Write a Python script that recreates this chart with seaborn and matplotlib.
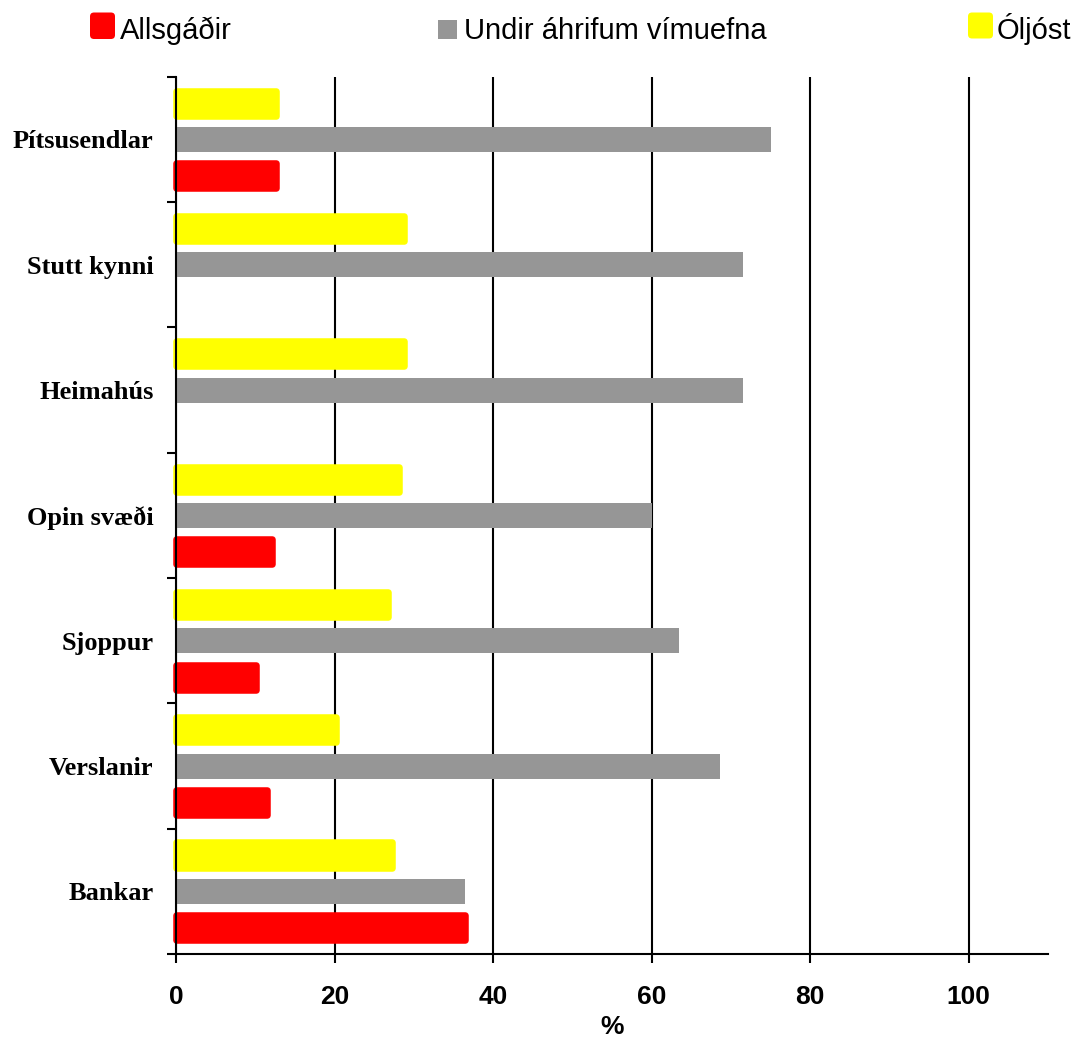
import matplotlib
matplotlib.use("Agg")
import matplotlib.pyplot as plt
import pandas as pd
import seaborn as sns
from matplotlib.patches import FancyBboxPatch

categories = ["Pítsusendlar", "Stutt kynni", "Heimahús", "Opin svæði", "Sjoppur", "Verslanir", "Bankar"]
series = ["Óljóst", "Undir áhrifum vímuefna", "Allsgáðir"]
oljost = [12.6, 28.7, 28.7, 28.1, 26.7, 20.2, 27.3]
undir_ahrifum = [75.0, 71.5, 71.5, 60.0, 63.4, 68.6, 36.4]
allsgadir = [12.6, 0, 0, 12.1, 10.1, 11.5, 36.4]
colors = {"Óljóst": "#FFFF00", "Undir áhrifum vímuefna": "#969696", "Allsgáðir": "#FF0000"}
legend_order = ["Allsgáðir", "Undir áhrifum vímuefna", "Óljóst"]
xticks = [0, 20, 40, 60, 80, 100]

df = pd.DataFrame({
    "flokkur": categories * 3,
    "hopur": [s for s in series for _ in categories],
    "gildi": oljost + undir_ahrifum + allsgadir,
})

sns.set_style("white")
plt.rcParams["text.color"] = "black"
plt.rcParams["axes.labelcolor"] = "black"
plt.rcParams["xtick.color"] = "black"
plt.rcParams["ytick.color"] = "black"

fig = plt.figure(figsize=(10.75, 10.43), dpi=100)
ax = fig.add_axes([0.1637, 0.0853, 0.8112, 0.8411])
ax.set_axisbelow(True)

sns.barplot(data=df, y="flokkur", x="gildi", hue="hopur", order=categories,
            hue_order=series, palette=colors, saturation=1, width=0.87,
            orient="h", legend=False, ax=ax)

# thinner bars; yellow and red get a rounded outline in their own colour
for name, bars in zip(series, ax.containers):
    for bar in bars:
        mid = bar.get_y() + bar.get_height() / 2
        bar.set_height(0.2)
        bar.set_y(mid - 0.1)
        if bar.get_width() == 0:
            bar.set_visible(False)
        elif name != "Undir áhrifum vímuefna":
            bar.set_edgecolor(colors[name])
            bar.set_linewidth(4.7)
            bar.set_joinstyle("round")
            bar.set_clip_on(False)
        else:
            bar.set_edgecolor("none")
            bar.set_linewidth(0)

ax.set_xlim(0, 110)
ax.set_ylim(len(categories) - 0.5, -0.5)
ax.set_xticks(xticks)
ax.set_xticklabels([str(t) for t in xticks], fontfamily="Liberation Sans",
                   fontweight="bold", fontsize=19)
ax.set_yticks([i - 0.5 for i in range(len(categories) + 1)])
ax.set_yticklabels([])
ax.set_yticks(range(len(categories)), minor=True)
ax.set_yticklabels(categories, minor=True, fontfamily="Liberation Serif",
                   fontweight="bold", fontsize=19)
ax.tick_params(axis="y", which="minor", left=True, length=0, pad=16, labelcolor="black")
ax.tick_params(axis="y", which="major", left=True, length=6.5, width=1.5, color="black")
ax.tick_params(axis="x", bottom=True, length=6.5, width=1.5, pad=16, color="black",
               labelcolor="black")

ax.grid(axis="x", color="black", linewidth=1.5)
ax.grid(axis="y", visible=False)
sns.despine(ax=ax)
for side in ["left", "bottom"]:
    ax.spines[side].set_color("black")
    ax.spines[side].set_linewidth(1.5)

ax.set_ylabel("")
ax.set_xlabel("%", fontfamily="Liberation Sans", fontweight="bold", fontsize=19,
              labelpad=4, color="black")

box_px = {"Allsgáðir": (90, 12.5, 25, 26.5, True),
          "Undir áhrifum vímuefna": (437.5, 20, 19, 19, False),
          "Óljóst": (968, 12.5, 25, 26, True)}
text_x = {"Allsgáðir": 119.5, "Undir áhrifum vímuefna": 464, "Óljóst": 997}
H = 1043
for name in legend_order:
    x0, y0, w, h, rounded = box_px[name]
    style = "round,pad=0,rounding_size=0.04" if rounded else "square,pad=0"
    fig.add_artist(FancyBboxPatch((x0 / 100, (H - y0 - h) / 100), w / 100, h / 100,
                                  boxstyle=style, transform=fig.dpi_scale_trans,
                                  facecolor=colors[name], edgecolor="none"))
    fig.text(text_x[name] / 100, (H - 39) / 100, name, transform=fig.dpi_scale_trans,
             fontfamily="Liberation Sans", fontsize=21, va="baseline", ha="left",
             color="black")

fig.savefig("out.png", dpi=100, facecolor="white")
